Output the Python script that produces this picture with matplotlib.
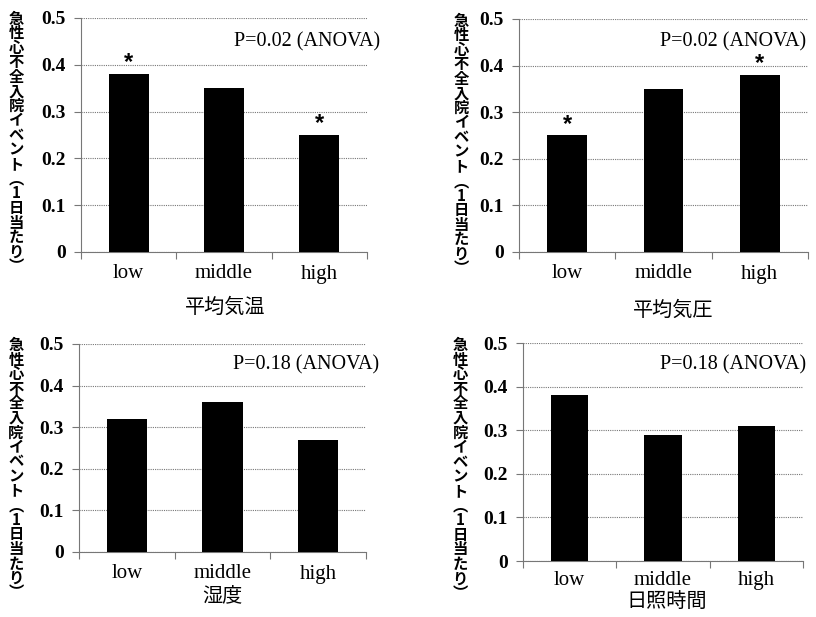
import matplotlib
matplotlib.use("Agg")
import matplotlib.pyplot as plt
from matplotlib.ticker import FixedLocator

plt.rcParams['font.family'] = ['Liberation Serif', 'Noto Sans CJK JP', 'DejaVu Sans']

categories = ['low', 'middle', 'high']
temp_vals = [0.38, 0.35, 0.25]
press_vals = [0.25, 0.35, 0.38]
humid_vals = [0.32, 0.36, 0.27]
sun_vals = [0.38, 0.29, 0.31]
panel_values = [temp_vals, press_vals, humid_vals, sun_vals]
panel_names = ['平均気温', '平均気圧', '湿度', '日照時間']
p_texts = ['P=0.02 (ANOVA)', 'P=0.02 (ANOVA)', 'P=0.18 (ANOVA)', 'P=0.18 (ANOVA)']
# which bars carry a significance star
stars = [[True, False, True], [True, False, True],
         [False, False, False], [False, False, False]]
yticks = [0, 0.1, 0.2, 0.3, 0.4, 0.5]
ytick_labels = ['0', '0.1', '0.2', '0.3', '0.4', '0.5']

ylabel = '急性心不全入院イベント︵1日当たり︶'

W, H = 816, 617
# axes boxes in pixels: left, top, right, bottom
boxes = [(81, 18, 367, 252), (519, 19, 808, 252),
         (79, 344, 366, 552), (523, 343, 803, 561)]
ylab_pos = [(-0.227, 0.468), (-0.200, 0.461), (-0.220, 0.400), (-0.225, 0.422)]
xlab_pos = [(0.503, -0.235), (0.533, -0.249), (0.498, -0.210), (0.514, -0.188)]
tick_pad = [9, 9, 9, 7]
p_x = [1.045, 0.995, 1.045, 1.01]
bar_w = [0.42, 0.41, 0.42, 0.40]

fig = plt.figure(figsize=(W / 100, H / 100), dpi=100)

for i, vals in enumerate(panel_values):
    l, t, r, b = boxes[i]
    ax = fig.add_axes([l / W, 1 - b / H, (r - l) / W, (b - t) / H])
    x = range(len(categories))
    ax.bar(x, vals, width=bar_w[i], color='black', zorder=3)
    ax.set_xlim(-0.5, 2.5)
    ax.set_ylim(0, 0.5)
    ax.set_yticks(yticks)
    ax.set_yticklabels(ytick_labels, fontsize=14, fontweight='bold')
    ax.set_xticks(list(x))
    ax.set_xticklabels(categories, fontsize=15)
    ax.xaxis.set_minor_locator(FixedLocator([-0.5, 0.5, 1.5, 2.5]))
    ax.tick_params(axis='x', which='major', length=0, pad=tick_pad[i])
    ax.tick_params(axis='x', which='minor', length=5, color='#777777', width=0.8)
    ax.tick_params(axis='y', length=5, color='#777777', width=0.8, pad=6)
    ax.grid(axis='y', color='#777777', linestyle=(0, (1, 1)), linewidth=0.8, zorder=0)
    for s in ['top', 'right']:
        ax.spines[s].set_visible(False)
    for s in ['left', 'bottom']:
        ax.spines[s].set_color('#777777')
        ax.spines[s].set_linewidth(0.8)
    ax.set_ylabel('\n'.join(ylabel), rotation=0, fontsize=11,
                  family=['Noto Sans CJK JP', 'DejaVu Sans'], fontweight='bold',
                  linespacing=0.89, va='center', ha='center')
    ax.yaxis.set_label_coords(*ylab_pos[i])
    ax.set_xlabel(panel_names[i], fontsize=14.5,
                  family=['Noto Sans CJK JP', 'DejaVu Sans'], va='center')
    ax.xaxis.set_label_coords(*xlab_pos[i])
    ax.text(p_x[i], 0.45, p_texts[i], transform=ax.get_yaxis_transform(),
            ha='right', va='center', fontsize=14.5)
    for j, v in enumerate(vals):
        if stars[i][j]:
            ax.text(j, v + 0.024, '*', ha='center', va='center', fontsize=17,
                    fontweight='bold', family='Liberation Sans')

fig.savefig('out.png', dpi=100)
